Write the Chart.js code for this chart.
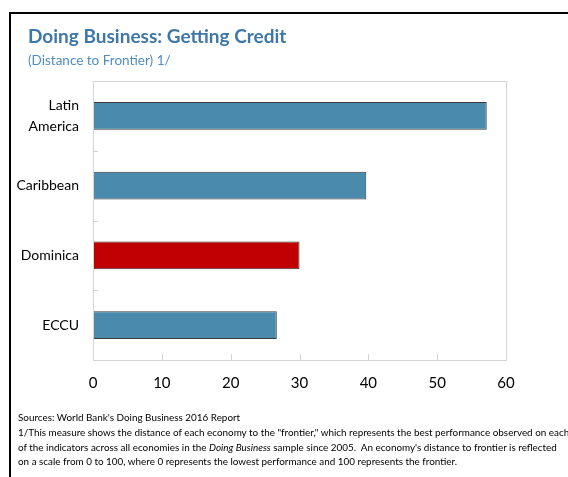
<!DOCTYPE html>
<html>
<head>
<meta charset="utf-8">
<script src="https://cdn.jsdelivr.net/npm/chart.js@4/dist/chart.umd.min.js"></script>
<style>
  body { margin: 0; background: #fff; }
  #wrap { position: relative; width: 568px; height: 477px; overflow: hidden; background: #fff; }
  #frame { position: absolute; left: 9px; top: 12px; right: -10px; bottom: -10px;
           border-top: 2px solid #000; border-left: 2px solid #000; }
  #chart { position: absolute; left: 0; top: 0; }
  .title { position: absolute; left: 28px; top: 24px; font-family: Lato, sans-serif; font-weight: bold;
           font-size: 19px; color: #3f78a8; white-space: nowrap; }
  .subtitle { position: absolute; left: 28px; top: 52px; font-family: Lato, sans-serif;
              font-size: 13.5px; color: #4f8cc4; white-space: nowrap; }
  .notes { position: absolute; left: 18px; top: 410px; font-family: Lato, sans-serif; font-size: 9.9px;
           line-height: 14.8px; color: #000; white-space: nowrap; }
</style>
</head>
<body>
<div id="wrap">
  <div id="frame"></div>
  <canvas id="chart" width="568" height="477"></canvas>
  <div class="title">Doing Business: Getting Credit</div>
  <div class="subtitle">(Distance to Frontier) 1/</div>
  <div class="notes">
    Sources: World Bank's Doing Business 2016 Report<br>
    1/This measure shows the distance of each economy to the "frontier," which represents the best performance observed on each<br>
    of the indicators across all economies in the <i>Doing Business</i> sample since 2005.&nbsp; An economy's distance to frontier is reflected<br>
    on a scale from 0 to 100, where 0 represents the lowest performance and 100 represents the frontier.
  </div>
</div>
<script>
  const regions = [['Latin', 'America'], 'Caribbean', 'Dominica', 'ECCU'];
  const distance = [57.2, 39.7, 30.0, 26.7];
  const barColors = ['#4a8aad', '#4a8aad', '#c00000', '#4a8aad'];
  const xTicks = [0, 10, 20, 30, 40, 50, 60];

  // plot box and inward tick marks
  const boxPlugin = {
    id: 'box',
    afterDraw(chart) {
      const { ctx, chartArea: a, scales } = chart;
      ctx.save();
      ctx.strokeStyle = '#d4d4d4';
      ctx.lineWidth = 1;
      ctx.strokeRect(a.left + 0.5, a.top + 0.5, a.right - a.left, a.bottom - a.top);
      ctx.beginPath();
      xTicks.slice(1, -1).forEach(v => {
        const x = Math.round(scales.x.getPixelForValue(v)) + 0.5;
        ctx.moveTo(x, a.bottom);
        ctx.lineTo(x, a.bottom - 6);
      });
      for (let i = 1; i < regions.length; i++) {
        const y = Math.round((scales.y.getPixelForValue(i - 1) + scales.y.getPixelForValue(i)) / 2) + 0.5;
        ctx.moveTo(a.left, y);
        ctx.lineTo(a.left + 5, y);
      }
      ctx.stroke();
      ctx.restore();
    }
  };

  new Chart(document.getElementById('chart'), {
    type: 'bar',
    data: {
      labels: regions,
      datasets: [{
        data: distance,
        backgroundColor: barColors,
        borderColor: '#3a3a3a',
        borderWidth: 1,
        borderSkipped: false,
        categoryPercentage: 1,
        barPercentage: 0.4
      }]
    },
    options: {
      indexAxis: 'y',
      responsive: false,
      animation: false,
      layout: { padding: { left: 0, right: 62, top: 81, bottom: 77 } },
      plugins: { legend: { display: false }, tooltip: { enabled: false } },
      scales: {
        x: {
          min: 0, max: 60,
          afterFit(s) { s.height = 40; },
          afterBuildTicks(s) { s.ticks = xTicks.map(v => ({ value: v })); },
          grid: { display: false, drawTicks: false },
          border: { display: false },
          ticks: { padding: 14, color: '#000', font: { family: 'Lato', size: 15 } }
        },
        y: {
          afterFit(s) { s.width = 93; },
          grid: { display: false, drawTicks: false },
          border: { display: false },
          ticks: { padding: 14, color: '#000', font: { family: 'Lato', size: 14, lineHeight: 1.55 } }
        }
      }
    },
    plugins: [boxPlugin]
  });
</script>
</body>
</html>
